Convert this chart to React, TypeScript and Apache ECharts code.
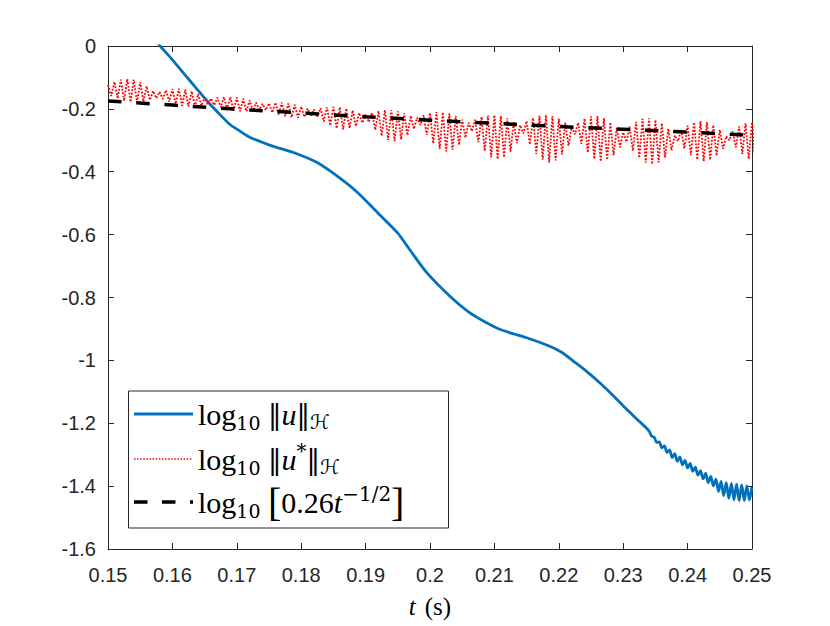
import React, { useEffect, useRef } from "react";
import * as echarts from "echarts";

// ---- axes ----
const X_MIN = 0.15;
const X_MAX = 0.25;
const X_STEP = 0.01;
const Y_MIN = -1.6;
const Y_MAX = 0;
const Y_STEP = 0.2;

const seriesNames = ["log10 ‖u‖ℋ", "log10 ‖u*‖ℋ", "log10 [0.26t^(−1/2)]"];

// ---- blue: log10 ||u||_H ----
const blueT = [
  0.157, 0.1581, 0.16, 0.1625, 0.1654, 0.167, 0.1689, 0.1705, 0.172, 0.1752,
  0.1787, 0.1824, 0.1856, 0.1887, 0.1918, 0.1949, 0.197, 0.1995, 0.2031, 0.2062, 0.209,
  0.2109, 0.213, 0.215, 0.2186, 0.2205, 0.2223, 0.2245, 0.2264, 0.2285, 0.2305, 0.2326,
  0.234, 0.2344, 0.2348, 0.2352, 0.2356, 0.236, 0.2364, 0.2368, 0.2372, 0.2376,
  0.238, 0.2384, 0.2388, 0.2392, 0.2396, 0.24, 0.2404, 0.2408, 0.2412, 0.2416,
  0.242, 0.2424, 0.2428, 0.2432, 0.2436, 0.244, 0.2444, 0.2448, 0.2452, 0.2456,
  0.246, 0.2464, 0.2468, 0.2472, 0.2476, 0.248, 0.2484, 0.2488, 0.2492, 0.2496, 0.25,
];
const blueV = [
  0.026, 0, -0.044, -0.105, -0.175, -0.21, -0.249, -0.271, -0.29, -0.316,
  -0.338, -0.37, -0.414, -0.465, -0.529, -0.593, -0.652, -0.721, -0.796, -0.849, -0.883,
  -0.902, -0.916, -0.928, -0.955, -0.975, -1.003, -1.038, -1.072, -1.113, -1.155, -1.196,
  -1.224, -1.241, -1.244, -1.261, -1.259, -1.278, -1.272, -1.293, -1.285, -1.309,
  -1.297, -1.321, -1.307, -1.332, -1.318, -1.342, -1.328, -1.353, -1.34, -1.365,
  -1.351, -1.377, -1.359, -1.389, -1.369, -1.399, -1.378, -1.417, -1.385, -1.43,
  -1.389, -1.439, -1.391, -1.444, -1.394, -1.446, -1.396, -1.446, -1.399, -1.444, -1.403,
];

// ---- red: log10 ||u*||_H (fast oscillation: upper / lower swings) ----
const redT = [
  0.150, 0.151, 0.152, 0.153, 0.154, 0.155, 0.156, 0.157, 0.158, 0.159,
  0.160, 0.161, 0.162, 0.163, 0.164, 0.165, 0.166, 0.167, 0.168, 0.169,
  0.170, 0.171, 0.172, 0.173, 0.174, 0.175, 0.176, 0.177, 0.178, 0.179,
  0.180, 0.181, 0.182, 0.183, 0.184, 0.185, 0.186, 0.187, 0.188, 0.189,
  0.190, 0.191, 0.192, 0.193, 0.194, 0.195, 0.196, 0.197, 0.198, 0.199,
  0.200, 0.201, 0.202, 0.203, 0.204, 0.205, 0.206, 0.207, 0.208, 0.209,
  0.210, 0.211, 0.212, 0.213, 0.214, 0.215, 0.216, 0.217, 0.218, 0.219,
  0.220, 0.221, 0.222, 0.223, 0.224, 0.225, 0.226, 0.227, 0.228, 0.229,
  0.230, 0.231, 0.232, 0.233, 0.234, 0.235, 0.236, 0.237, 0.238, 0.239,
  0.240, 0.241, 0.242, 0.243, 0.244, 0.245, 0.246, 0.247, 0.248, 0.249,
  0.250,
];
const redHi = [
  -0.124, -0.114, -0.107, -0.105, -0.107, -0.115, -0.128, -0.143,
  -0.146, -0.141, -0.137, -0.136, -0.139, -0.144, -0.153, -0.163,
  -0.167, -0.164, -0.162, -0.162, -0.164, -0.168, -0.173, -0.18,
  -0.184, -0.182, -0.18, -0.18, -0.183, -0.187, -0.193, -0.199,
  -0.202, -0.198, -0.195, -0.194, -0.195, -0.199, -0.205, -0.213,
  -0.218, -0.212, -0.207, -0.204, -0.204, -0.208, -0.214, -0.222,
  -0.228, -0.22, -0.213, -0.21, -0.211, -0.215, -0.223, -0.234,
  -0.244, -0.234, -0.226, -0.221, -0.22, -0.223, -0.23, -0.241,
  -0.252, -0.239, -0.229, -0.222, -0.22, -0.223, -0.231, -0.243,
  -0.258, -0.244, -0.231, -0.224, -0.223, -0.23, -0.243, -0.261,
  -0.274, -0.256, -0.241, -0.232, -0.23, -0.235, -0.246, -0.263,
  -0.284, -0.267, -0.253, -0.243, -0.239, -0.242, -0.252, -0.267,
  -0.287, -0.271, -0.256, -0.246, -0.242,
];
const redLo = [
  -0.159, -0.167, -0.174, -0.178, -0.179, -0.177, -0.172, -0.166,
  -0.168, -0.177, -0.184, -0.19, -0.192, -0.193, -0.19, -0.187,
  -0.188, -0.195, -0.201, -0.206, -0.208, -0.208, -0.206, -0.203,
  -0.204, -0.212, -0.219, -0.224, -0.227, -0.228, -0.226, -0.223,
  -0.225, -0.24, -0.253, -0.262, -0.265, -0.262, -0.255, -0.245,
  -0.242, -0.267, -0.286, -0.299, -0.303, -0.297, -0.284, -0.264,
  -0.251, -0.283, -0.31, -0.327, -0.335, -0.33, -0.315, -0.292,
  -0.271, -0.306, -0.334, -0.354, -0.36, -0.354, -0.336, -0.309,
  -0.278, -0.313, -0.343, -0.362, -0.37, -0.364, -0.345, -0.317,
  -0.281, -0.311, -0.339, -0.359, -0.367, -0.362, -0.347, -0.322,
  -0.305, -0.333, -0.356, -0.371, -0.376, -0.37, -0.355, -0.332,
  -0.303, -0.326, -0.347, -0.361, -0.367, -0.362, -0.349, -0.327,
  -0.3, -0.322, -0.343, -0.359, -0.366,
];
const RED_HALF_STEP = 0.0005;

// ---- black dashed: log10[0.26 t^(-1/2)] ----
const fitT = [0.15, 0.16, 0.17, 0.18, 0.19, 0.2, 0.21, 0.22, 0.23, 0.24, 0.25];
const fitV = [-0.175, -0.188, -0.201, -0.213, -0.225, -0.236, -0.246, -0.256, -0.265, -0.274, -0.284];

const BLUE = "#0072BD";
const RED = "#FF0000";
const AXIS = "#262626";
const SERIF = "'Liberation Serif', 'DejaVu Serif', serif";
const DJSERIF = "'DejaVu Serif', serif";
const SANS = "'Liberation Sans', Arial, Helvetica, sans-serif";

export default function App() {
  const ref = useRef<HTMLDivElement>(null);

  useEffect(() => {
    if (!ref.current) return;
    const chart = echarts.init(ref.current, undefined, { renderer: "svg" });

    const blueData = blueT.map((t, i) => [t, blueV[i]]);
    const redData: number[][] = [];
    redT.forEach((t, i) => {
      redData.push([t, redHi[i]]);
      redData.push([t + RED_HALF_STEP, redLo[i]]);
    });
    const fitData = fitT.map((t, i) => [t, fitV[i]]);

    const baseX = {
      type: "value" as const,
      min: X_MIN,
      max: X_MAX,
      interval: X_STEP,
      splitLine: { show: false },
      axisLine: { show: true, onZero: false, lineStyle: { color: AXIS, width: 1 } },
      axisTick: { show: true, inside: true, length: 6, lineStyle: { color: AXIS, width: 1 } },
    };
    const baseY = {
      type: "value" as const,
      min: Y_MIN,
      max: Y_MAX,
      interval: Y_STEP,
      splitLine: { show: false },
      axisLine: { show: true, onZero: false, lineStyle: { color: AXIS, width: 1 } },
      axisTick: { show: true, inside: true, length: 6, lineStyle: { color: AXIS, width: 1 } },
    };

    const richMain = {
      r: { fontFamily: SERIF, fontSize: 30, lineHeight: 36, fill: "#000" },
      n: { fontFamily: DJSERIF, fontSize: 27, lineHeight: 36, fill: "#000" },
      i: { fontFamily: SERIF, fontSize: 30, lineHeight: 36, fontStyle: "italic", fill: "#000" },
      s: { fontFamily: DJSERIF, fontSize: 19, lineHeight: 15, verticalAlign: "bottom", fill: "#000" },
      h: { fontFamily: "'DejaVu Sans', sans-serif", fontSize: 20, lineHeight: 15, verticalAlign: "bottom", fill: "#000" },
      sup: { fontFamily: DJSERIF, fontSize: 20, lineHeight: 15, verticalAlign: "top", fill: "#000" },
      b: { fontFamily: SERIF, fontSize: 40, lineHeight: 36, fill: "#000" },
    };

    const legendRows = [
      { y: 414, text: "{r|log}{s|10}{r| }{n|‖}{i|u}{n|‖}{h|ℋ}" },
      { y: 459, text: "{r|log}{s|10}{r| }{n|‖}{i|u}{sup|*}{n|‖}{h|ℋ}" },
      { y: 502, text: "{r|log}{s|10}{r| }{b|[}{r|0.26}{i|t}{sup|−1/2}{b|]}" },
    ];

    chart.setOption({
      animation: false,
      backgroundColor: "#ffffff",
      grid: { left: 108, right: 78, top: 46, bottom: 77, containLabel: false },
      xAxis: [
        {
          ...baseX,
          position: "bottom",
          axisLabel: { show: true, color: AXIS, fontFamily: SANS, fontSize: 20, margin: 16 },
          name: "{i|t}{r|(s)}",
          nameLocation: "middle",
          nameGap: 45,
          nameTextStyle: {
            rich: {
              i: { fontFamily: SERIF, fontSize: 25, fontStyle: "italic", color: "#000", padding: [0, 9, 0, 0] },
              r: { fontFamily: SERIF, fontSize: 25, color: "#000" },
            },
          },
        },
        { ...baseX, position: "top", axisLabel: { show: false } },
      ],
      yAxis: [
        {
          ...baseY,
          position: "left",
          axisLabel: { show: true, color: AXIS, fontFamily: SANS, fontSize: 20, margin: 12 },
        },
        { ...baseY, position: "right", axisLabel: { show: false } },
      ],
      series: [
        {
          name: seriesNames[0],
          type: "line",
          data: blueData,
          showSymbol: false,
          symbol: "none",
          smooth: 0.25,
          clip: true,
          lineStyle: { color: BLUE, width: 2.8, join: "round" },
          z: 2,
        },
        {
          name: seriesNames[1],
          type: "line",
          data: redData,
          showSymbol: false,
          symbol: "none",
          clip: true,
          lineStyle: { color: RED, width: 1.8, type: [1.8, 1.6] },
          z: 3,
        },
        {
          name: seriesNames[2],
          type: "line",
          data: fitData,
          showSymbol: false,
          symbol: "none",
          clip: true,
          lineStyle: { color: "#000", width: 3.5, type: [13.5, 14.8] },
          z: 4,
        },
      ],
      graphic: [
        {
          type: "rect",
          z: 100,
          shape: { x: 128.5, y: 391, width: 320, height: 137 },
          style: { fill: "#ffffff", stroke: AXIS, lineWidth: 1 },
        },
        {
          type: "line",
          z: 101,
          shape: { x1: 134, y1: 414, x2: 193, y2: 414 },
          style: { stroke: BLUE, lineWidth: 2.8 },
        },
        {
          type: "line",
          z: 101,
          shape: { x1: 134, y1: 459, x2: 193, y2: 459 },
          style: { stroke: RED, lineWidth: 1.5, lineDash: [1.5, 1.6] },
        },
        {
          type: "line",
          z: 101,
          shape: { x1: 134, y1: 502, x2: 193, y2: 502 },
          style: { stroke: "#000", lineWidth: 3.5, lineDash: [13.5, 14.5] },
        },
        ...legendRows.map((row) => ({
          type: "text",
          z: 101,
          x: 198,
          y: row.y,
          style: {
            text: row.text,
            align: "left",
            verticalAlign: "middle",
            fill: "#000",
            rich: richMain,
          },
        })),
      ],
    });

    return () => chart.dispose();
  }, []);

  return (
    <div
      ref={ref}
      style={{ position: "absolute", left: 0, top: 0, width: 830, height: 626, background: "#fff" }}
    />
  );
}
